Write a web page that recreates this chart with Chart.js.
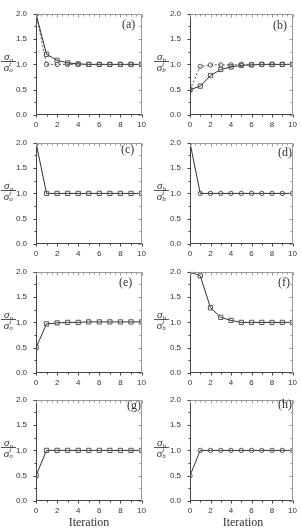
<!DOCTYPE html>
<html>
<head>
<meta charset="utf-8">
<script src="https://cdn.jsdelivr.net/npm/chart.js@4.4.1/dist/chart.umd.min.js"></script>
<style>
  html, body { margin:0; padding:0; background:#fff; }
  #wrap { position:relative; width:302px; height:532px; overflow:hidden; }
  canvas { position:absolute; }
  .frac { position:absolute; width:15px; font-family:'Liberation Serif','DejaVu Serif',serif; color:#333; }
  .num { display:block; text-align:center; font-size:11px; line-height:9px; height:9px; border-bottom:1px solid #555; font-style:italic; }
  .den { display:block; text-align:center; font-size:11px; line-height:10px; height:10px; font-style:italic; white-space:nowrap; }
  .sub { font-size:7px; position:relative; top:2px; font-style:italic; }
  .st { display:inline-block; position:relative; width:4px; height:10px; vertical-align:top; }
  .st .t { position:absolute; left:0; top:-3px; font-size:7px; }
  .st .o { position:absolute; left:0; top:3px; font-size:7px; }
  .plab { position:absolute; font-family:'Liberation Serif','DejaVu Serif',serif; font-size:12px; color:#333; }
  .xlab { position:absolute; font-family:'Liberation Serif','DejaVu Serif',serif; font-size:12px; color:#333; text-align:center; width:106px; }
</style>
</head>
<body>
<div id="wrap"></div>
<script>
// ---- data ----
const iterations = [0,1,2,3,4,5,6,7,8,9,10];
const xTickLabels = ['0','2','4','6','8','10'];
const yTickLabels = ['0.0','0.5','1.0','1.5','2.0'];
const panelLetters = ['(a)','(b)','(c)','(d)','(e)','(f)','(g)','(h)'];
const aSquares = [2.0, 1.20, 1.08, 1.03, 1.01, 1.00, 1.00, 1.00, 1.00, 1.00, 1.00];
const aCircles = [2.0, 1.00, 1.00, 1.00, 1.00, 1.00, 1.00, 1.00, 1.00, 1.00, 1.00];
const bSquares = [0.5, 0.57, 0.78, 0.90, 0.95, 0.98, 0.99, 1.00, 1.00, 1.00, 1.00];
const bCircles = [0.5, 0.96, 0.99, 0.99, 0.99, 1.00, 1.00, 1.00, 1.00, 1.00, 1.00];
const cValues  = [2.0, 1.00, 1.00, 1.00, 1.00, 1.00, 1.00, 1.00, 1.00, 1.00, 1.00];
const dValues  = [2.0, 1.00, 1.00, 1.00, 1.00, 1.00, 1.00, 1.00, 1.00, 1.00, 1.00];
const eValues  = [0.5, 0.97, 0.99, 1.00, 1.00, 1.01, 1.01, 1.01, 1.01, 1.01, 1.01];
const fValues  = [2.0, 1.92, 1.29, 1.10, 1.04, 1.00, 1.00, 1.00, 1.00, 1.00, 1.00];
const gValues  = [0.5, 1.00, 1.00, 1.00, 1.00, 1.00, 1.00, 1.00, 1.00, 1.00, 1.00];
const hValues  = [0.5, 1.00, 1.00, 1.00, 1.00, 1.00, 1.00, 1.00, 1.00, 1.00, 1.00];

// ---- layout ----
const wrap = document.getElementById('wrap');
const rowTops = [0, 129, 258, 386];
const cols = [
  {left:0, w:151, yW:36, padR:9, sym:'o', fracX:1},
  {left:151, w:151, yW:39, padR:7, sym:'b', fracX:3}
];
const CH = 129, PADT = 10, XH = 14;

const frameTicks = {
  id:'frameTicks',
  afterDraw(chart) {
    const ctx = chart.ctx, a = chart.chartArea, x = chart.scales.x, y = chart.scales.y;
    const L = Math.round(a.left)+0.5, R = Math.round(a.right)-0.5, T = Math.round(a.top)+0.5, B = Math.round(a.bottom)-0.5;
    ctx.save();
    ctx.lineWidth = 1;
    ctx.strokeStyle = '#999';
    ctx.beginPath(); ctx.moveTo(L,T); ctx.lineTo(R,T); ctx.lineTo(R,B); ctx.stroke();
    ctx.strokeStyle = '#444';
    ctx.beginPath(); ctx.moveTo(L,T); ctx.lineTo(L,B); ctx.lineTo(R,B); ctx.stroke();
    for (let v = 0; v <= 10.001; v += 0.5) {
      const px = Math.round(x.getPixelForValue(v)) + 0.5;
      const major = Math.abs(v % 2) < 1e-6;
      const integer = Math.abs(v % 1) < 1e-6;
      ctx.strokeStyle = '#999';
      ctx.beginPath(); ctx.moveTo(px, T); ctx.lineTo(px, T + (major ? 3 : 2)); ctx.stroke();
      if (integer) {
        ctx.strokeStyle = '#444';
        ctx.beginPath(); ctx.moveTo(px, B); ctx.lineTo(px, B + (major ? 3 : 2)); ctx.stroke();
      }
    }
    for (let v = 0; v <= 2.001; v += 0.25) {
      const py = Math.round(y.getPixelForValue(v)) + 0.5;
      const major = Math.abs(v % 0.5) < 1e-6;
      ctx.strokeStyle = '#444';
      ctx.beginPath(); ctx.moveTo(L, py); ctx.lineTo(L - (major ? 3 : 2), py); ctx.stroke();
      ctx.strokeStyle = '#999';
      ctx.beginPath(); ctx.moveTo(R, py); ctx.lineTo(R - (major ? 3 : 2), py); ctx.stroke();
    }
    ctx.restore();
  }
};

function series(values, style, dashed) {
  return {
    data: values,
    borderColor: dashed ? '#555' : '#333',
    borderWidth: 1,
    borderDash: dashed ? [2,2] : [],
    pointStyle: style,
    pointRadius: style === 'rect' ? 3 : 2.2,
    pointBorderColor: '#555',
    pointBorderWidth: 1,
    pointBackgroundColor: 'rgba(255,255,255,0)',
    tension: 0
  };
}

const panels = [
  {row:0, col:0, ds:[series(aCircles,'circle',true), series(aSquares,'rect',false)], lab:[122,17]},
  {row:0, col:1, ds:[series(bCircles,'circle',true), series(bSquares,'rect',false)], lab:[273,18]},
  {row:1, col:0, ds:[series(cValues,'rect',false)], lab:[121,142]},
  {row:1, col:1, ds:[series(dValues,'circle',false)], lab:[278,145]},
  {row:2, col:0, ds:[series(eValues,'rect',false)], lab:[119,275]},
  {row:2, col:1, ds:[series(fValues,'rect',false)], lab:[278,275]},
  {row:3, col:0, ds:[series(gValues,'rect',false)], lab:[127,398]},
  {row:3, col:1, ds:[series(hValues,'circle',false)], lab:[278,397]}
];

panels.forEach((p, i) => {
  const c = cols[p.col];
  const cv = document.createElement('canvas');
  cv.width = c.w; cv.height = CH;
  cv.style.left = c.left + 'px'; cv.style.top = rowTops[p.row] + 'px';
  wrap.appendChild(cv);
  new Chart(cv, {
    type:'line',
    data:{ labels: iterations, datasets: p.ds.map(d => Object.assign({}, d, {data: d.data.map((v,k)=>({x: iterations[k], y: v}))})) },
    options:{
      responsive:false, animation:false, devicePixelRatio:1,
      layout:{ padding:{ left:0, right:c.padR, top:PADT, bottom:0 } },
      plugins:{ legend:{display:false}, tooltip:{enabled:false} },
      scales:{
        x:{ type:'linear', min:0, max:10,
            grid:{display:false, drawTicks:false, tickLength:0}, border:{display:false},
            afterFit(s){ s.height = XH; },
            afterBuildTicks(s){ s.ticks = xTickLabels.map(t => ({value: Number(t)})); },
            ticks:{ padding:5, maxRotation:0, autoSkip:false, color:'#333',
                    font:{family:"'Liberation Sans', Arial, sans-serif", size:8},
                    callback:(v)=> String(v) } },
        y:{ type:'linear', min:0, max:2,
            grid:{display:false, drawTicks:false, tickLength:0}, border:{display:false},
            afterFit(s){ s.width = c.yW; },
            afterBuildTicks(s){ s.ticks = yTickLabels.map(t => ({value: Number(t)})); },
            ticks:{ padding:9, color:'#333',
                    font:{family:"'Liberation Sans', Arial, sans-serif", size:8},
                    callback:(v)=> Number(v).toFixed(1) } }
      }
    },
    plugins:[frameTicks]
  });
  const pl = document.createElement('div');
  pl.className = 'plab'; pl.textContent = panelLetters[i];
  pl.style.left = p.lab[0] + 'px'; pl.style.top = p.lab[1] + 'px';
  wrap.appendChild(pl);
  const fr = document.createElement('div');
  fr.className = 'frac';
  const s = c.sym;
  fr.innerHTML = '<span class="num">σ<span class="sub">' + s + '</span></span>' +
                 '<span class="den">σ<span class="st"><span class="t">t</span><span class="o">' + s + '</span></span></span>';
  fr.style.left = (c.left + c.fracX) + 'px';
  fr.style.top = (rowTops[p.row] + PADT + 52 - 10) + 'px';
  wrap.appendChild(fr);
  if (p.row === 3) {
    const xl = document.createElement('div');
    xl.className = 'xlab'; xl.textContent = 'Iteration';
    xl.style.left = (c.left + c.yW) + 'px'; xl.style.top = '515px';
    wrap.appendChild(xl);
  }
});
</script>
</body>
</html>
